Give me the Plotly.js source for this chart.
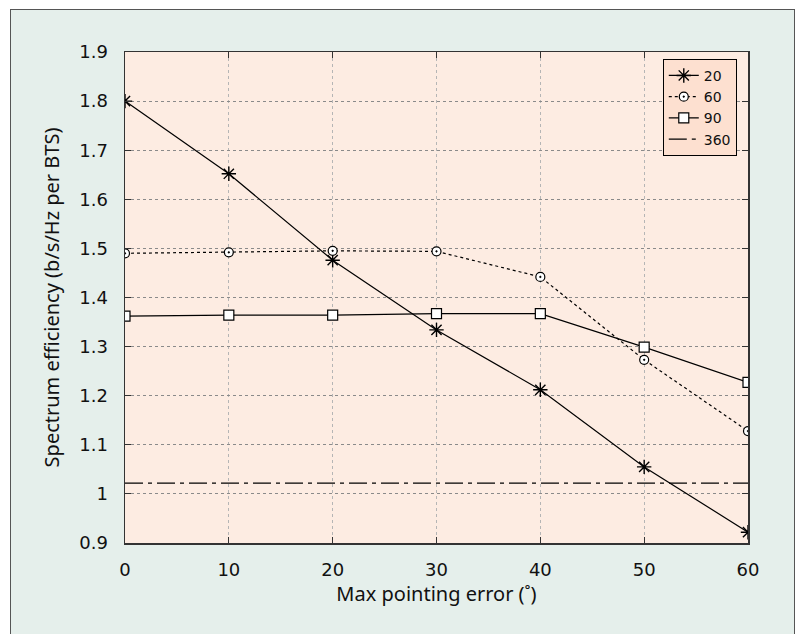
<!DOCTYPE html>
<html>
<head>
<meta charset="utf-8">
<script src="https://cdn.plot.ly/plotly-3.0.1.min.js"></script>
<style>
  html, body { margin: 0; padding: 0; background: #ffffff; width: 798px; height: 634px; overflow: hidden; }
  #frame { position: absolute; left: 10px; top: 9px; width: 783px; height: 640px; border: 1px solid #555; background: #e5efeb; overflow: hidden; }
  #chart { position: absolute; left: 0; top: 0; width: 783px; height: 625px; }
</style>
</head>
<body>
<div id="frame"><div id="chart"></div></div>
<script>
const xVals = [0, 10, 20, 30, 40, 50, 60];
const s20  = [1.800, 1.652, 1.476, 1.334, 1.212, 1.055, 0.922];
const s60  = [1.490, 1.492, 1.495, 1.494, 1.442, 1.273, 1.128];
const s90  = [1.362, 1.364, 1.364, 1.367, 1.367, 1.299, 1.227];
const s360 = [1.022, 1.022, 1.022, 1.022, 1.022, 1.022, 1.022];
const names = ['20', '60', '90', '360'];

const traces = [
  { x: xVals, y: s20, name: names[0], mode: 'lines+markers', type: 'scatter',
    line: { color: '#000', width: 1.2 },
    marker: { symbol: 'asterisk-open', size: 12, color: '#000', line: { color: '#000', width: 1.4 } } },
  { x: xVals, y: s60, name: names[1], mode: 'lines+markers', type: 'scatter',
    line: { color: '#000', width: 1.2, dash: 'dot' },
    marker: { symbol: 'circle-dot', size: 9, color: '#ffffff', line: { color: '#000', width: 1.2 } } },
  { x: xVals, y: s90, name: names[2], mode: 'lines+markers', type: 'scatter',
    line: { color: '#000', width: 1.2 },
    marker: { symbol: 'square', size: 10, color: '#ffffff', line: { color: '#000', width: 1.2 } } },
  { x: xVals, y: s360, name: names[3], mode: 'lines', type: 'scatter',
    line: { color: '#000', width: 1.2, dash: '18px,5px,4px,5px' } }
];

const tickFont = { family: 'DejaVu Sans', size: 18, color: '#111' };
const titleFont = { family: 'Noto Sans', size: 20, color: '#111' };

const layout = {
  width: 783, height: 625,
  paper_bgcolor: 'rgba(0,0,0,0)',
  plot_bgcolor: '#fdece2',
  margin: { l: 114, r: 46, t: 42, b: 92 },
  showlegend: true,
  legend: {
    x: 0.982, xanchor: 'right', y: 0.986, yanchor: 'top',
    bgcolor: '#fde0d0', bordercolor: '#000', borderwidth: 1,
    font: { family: 'DejaVu Sans', size: 14, color: '#111' },
    tracegroupgap: 0, itemwidth: 30
  },
  xaxis: {
    range: [0, 60], tickvals: xVals, ticks: 'inside', ticklen: 6, tickcolor: '#333',
    showline: true, linecolor: '#333', linewidth: 1.5, mirror: 'ticks',
    showgrid: true, gridcolor: '#b5b5b5', griddash: 'dot', gridwidth: 1,
    zeroline: false, tickfont: tickFont, ticklabelstandoff: 10,
    title: { text: 'Max pointing error (˚)', font: titleFont, standoff: 8 }
  },
  yaxis: {
    range: [0.9, 1.9], dtick: 0.1, tick0: 0.9, ticks: 'inside', ticklen: 6, tickcolor: '#333',
    showline: true, linecolor: '#333', linewidth: 1.5, mirror: 'ticks',
    showgrid: true, gridcolor: '#8a8a8a', griddash: 'dot', gridwidth: 1,
    zeroline: false, tickfont: tickFont, ticklabelstandoff: 12,
    title: { text: 'Spectrum efficiency (b/s/Hz per BTS)', font: titleFont, standoff: 14 }
  }
};

Plotly.newPlot('chart', traces, layout, { displayModeBar: false, staticPlot: true });
</script>
</body>
</html>
